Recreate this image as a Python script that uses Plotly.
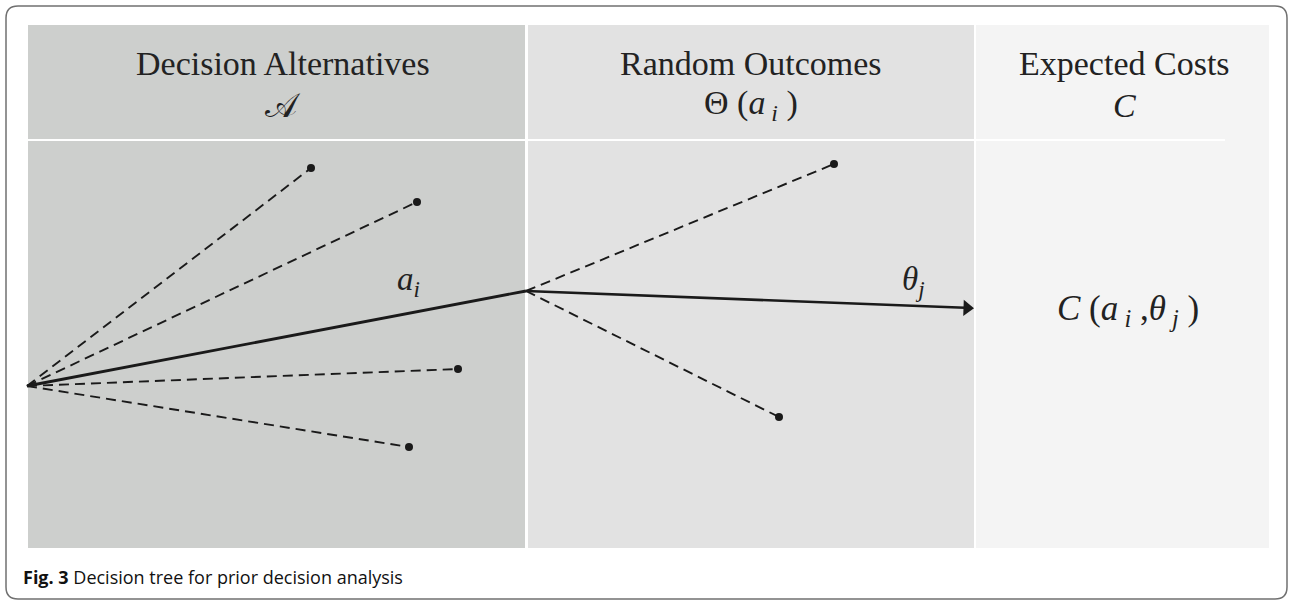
import plotly.graph_objects as go

# ---- data (pixel-like diagram coordinates) ----
root = (27, 386)
node = (526, 291)
alt_end_x = [311, 417, 458, 409]
alt_end_y = [168, 202, 369, 447]
out_end_x = [834, 779]
out_end_y = [164, 417]
chosen_end = (973, 308)

headers = ["Decision Alternatives", "Random Outcomes", "Expected Costs"]
header_sym = ["𝒜", "Θ (<i>a</i><sub> <i>i</i></sub> )", "<i>C</i>"]
header_x = [283, 751, 1124]

W, H = 1289, 602
SERIF = "Liberation Serif, Times New Roman, serif"
INK = "#1a1a1a"

fig = go.Figure()

panels = [(28, 525, "#cdcfcd"), (528, 974, "#e2e2e2"), (976, 1269, "#f4f4f4")]
shapes = []
for x0, x1, c in panels:
    shapes.append(dict(type="rect", xref="x", yref="y", x0=x0, x1=x1, y0=25, y1=548,
                       fillcolor=c, line=dict(width=0), layer="below"))
shapes.append(dict(type="line", xref="x", yref="y", x0=28, x1=974, y0=140, y1=140,
                   line=dict(color="white", width=2), layer="below"))
shapes.append(dict(type="line", xref="x", yref="y", x0=976, x1=1225, y0=140, y1=140,
                   line=dict(color="white", width=2), layer="below"))
r = 12
fx0, fy0, fx1, fy1 = 6, 6, 1287, 599
path = (f"M {fx0+r},{fy0} L {fx1-r},{fy0} Q {fx1},{fy0} {fx1},{fy0+r} "
        f"L {fx1},{fy1-r} Q {fx1},{fy1} {fx1-r},{fy1} L {fx0+r},{fy1} "
        f"Q {fx0},{fy1} {fx0},{fy1-r} L {fx0},{fy0+r} Q {fx0},{fy0} {fx0+r},{fy0} Z")
shapes.append(dict(type="path", xref="x", yref="y", path=path,
                   line=dict(color="#707070", width=1.5), fillcolor="rgba(0,0,0,0)"))

dash = "10px,6px"
for ex, ey in zip(alt_end_x, alt_end_y):
    fig.add_trace(go.Scatter(x=[root[0], ex], y=[root[1], ey], mode="lines",
                             line=dict(color=INK, width=1.9, dash=dash),
                             hoverinfo="skip", showlegend=False))
for ex, ey in zip(out_end_x, out_end_y):
    fig.add_trace(go.Scatter(x=[node[0], ex], y=[node[1], ey], mode="lines",
                             line=dict(color=INK, width=1.9, dash=dash),
                             hoverinfo="skip", showlegend=False))
fig.add_trace(go.Scatter(x=alt_end_x + out_end_x, y=alt_end_y + out_end_y, mode="markers",
                         marker=dict(color=INK, size=8), hoverinfo="skip", showlegend=False))
fig.add_trace(go.Scatter(x=[root[0], node[0]], y=[root[1], node[1]], mode="lines",
                         line=dict(color=INK, width=2.8), hoverinfo="skip", showlegend=False))
fig.add_trace(go.Scatter(x=[node[0], chosen_end[0] - 8], y=[node[1], chosen_end[1] - 0.2],
                         mode="lines", line=dict(color=INK, width=2.6),
                         hoverinfo="skip", showlegend=False))
fig.add_trace(go.Scatter(x=[chosen_end[0] - 6], y=[chosen_end[1]],
                         mode="markers",
                         marker=dict(symbol="triangle-right", size=14, color=INK, angle=2,
                                     line=dict(width=0)),
                         hoverinfo="skip", showlegend=False))

annotations = []
for h, s, x in zip(headers, header_sym, header_x):
    annotations.append(dict(x=x, y=63, xref="x", yref="y", text=h, showarrow=False,
                            font=dict(family=SERIF, size=34, color="#222222")))
    annotations.append(dict(x=x, y=105, xref="x", yref="y", text=s, showarrow=False,
                            font=dict(family=SERIF, size=34, color="#222222")))

annotations.append(dict(x=408, y=281, xref="x", yref="y",
                        text="<i>a</i><sub><i>i</i></sub>", showarrow=False,
                        font=dict(family=SERIF, size=33, color="#222222")))
annotations.append(dict(x=913, y=281, xref="x", yref="y",
                        text="<i>θ</i><sub><i>j</i></sub>", showarrow=False,
                        font=dict(family=SERIF, size=33, color="#222222")))
annotations.append(dict(x=1128, y=310, xref="x", yref="y",
                        text="<i>C</i> (<i>a</i><sub> <i>i</i></sub> ,<i>θ</i><sub> <i>j</i></sub> )",
                        showarrow=False,
                        font=dict(family=SERIF, size=35, color="#222222")))
annotations.append(dict(x=21, y=577, xref="x", yref="y", xanchor="left",
                        text="<b>Fig. 3</b> Decision tree for prior decision analysis",
                        showarrow=False,
                        font=dict(family="Open Sans, Noto Sans, sans-serif", size=18, color="#111111")))

fig.update_layout(
    width=W, height=H, margin=dict(l=0, r=0, t=0, b=0),
    paper_bgcolor="white", plot_bgcolor="white",
    xaxis=dict(range=[0, W], visible=False, fixedrange=True),
    yaxis=dict(range=[H, 0], visible=False, fixedrange=True),
    shapes=shapes, annotations=annotations, showlegend=False,
)
fig.write_html("out.html", config={"displayModeBar": False},
               post_script="document.body.style.margin='0px';document.body.style.overflow='hidden';")
